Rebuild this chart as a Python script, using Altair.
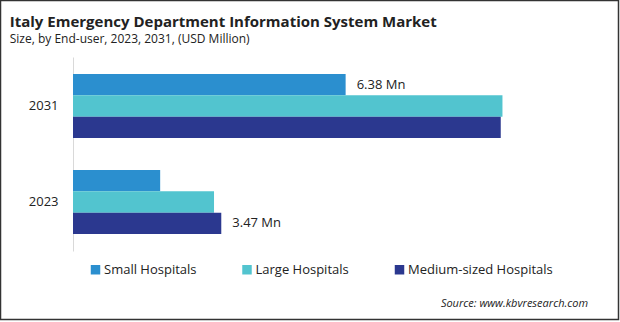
import altair as alt
import pandas as pd

years = ["2031", "2023"]
segments = ["Small Hospitals", "Large Hospitals", "Medium-sized Hospitals"]
values_2031 = [6.38, 10.05, 10.01]
values_2023 = [2.04, 3.30, 3.47]
labels_2031 = ["6.38 Mn", "", ""]
labels_2023 = ["", "", "3.47 Mn"]
colors = ["#2b8fcf", "#52c4cf", "#2b388f"]

rows = []
for seg, v, l in zip(segments, values_2031, labels_2031):
    rows.append({"year": "2031", "segment": seg, "value": v, "label": l})
for seg, v, l in zip(segments, values_2023, labels_2023):
    rows.append({"year": "2023", "segment": seg, "value": v, "label": l})
df = pd.DataFrame(rows)

FONT = "Open Sans"
W, H = 488, 194
PL, PT = 73, 57

y_enc = alt.Y(
    "year:N",
    sort=years,
    scale=alt.Scale(paddingInner=1 / 3, paddingOuter=17 / 96),
    axis=alt.Axis(
        title=None, ticks=False, domainColor="#d9d9d9", domainWidth=1,
        labelPadding=15, labelFontSize=13, labelFont=FONT, labelColor="#222222",
    ),
)
yoff = alt.YOffset("segment:N", sort=segments, scale=alt.Scale(paddingInner=0, paddingOuter=0))
x_enc = alt.X("value:Q", scale=alt.Scale(domain=[0, 11.42], nice=False), axis=None)

base = alt.Chart(df)
bars = base.mark_bar().encode(
    y=y_enc,
    yOffset=yoff,
    x=x_enc,
    color=alt.Color(
        "segment:N",
        sort=segments,
        scale=alt.Scale(domain=segments, range=colors),
        legend=alt.Legend(
            title=None, orient="none", legendX=16, legendY=206,
            direction="horizontal", symbolType="square", symbolSize=90,
            symbolStrokeWidth=0, labelFontSize=13, labelFont=FONT,
            labelColor="#222222", columnPadding=43.5, labelOffset=2,
        ),
    ),
)
texts = base.mark_text(align="left", dx=11, fontSize=13, font=FONT, color="#222222").encode(
    y=alt.Y("year:N", sort=years),
    yOffset=alt.YOffset("segment:N", sort=segments),
    x="value:Q",
    text="label:N",
)

src = alt.Chart(pd.DataFrame({"t": ["Source: www.kbvresearch.com"]})).mark_text(
    align="right", baseline="middle", fontSize=11, fontStyle="italic", font=FONT, color="#222222"
).encode(text="t:N", x=alt.value(588 - PL), y=alt.value(304 - PT))

border = alt.Chart(pd.DataFrame({"a": [0]})).mark_rect(
    fill=None, stroke="#333333", strokeWidth=1.5, clip=False
).encode(
    x=alt.value(-PL + 0.5), x2=alt.value(620 - PL - 1.5),
    y=alt.value(-PT + 0.5), y2=alt.value(322 - PT - 2.5),
)

chart = alt.layer(bars, texts, src, border).properties(
    width=W, height=H,
    background="white",
    title=alt.TitleParams(
        text="Italy Emergency Department  Information System Market",
        subtitle="Size, by End-user, 2023, 2031, (USD Million)",
        anchor="start", dx=10, dy=55, font=FONT, fontSize=15, fontWeight="bold",
        color="#222222", subtitleFont=FONT, subtitleFontSize=12, subtitleColor="#222222",
        subtitlePadding=4, offset=10,
    ),
    autosize=alt.AutoSizeParams(type="none"),
    padding={"left": PL, "top": PT, "right": 620 - PL - W, "bottom": 322 - PT - H},
).configure_view(strokeWidth=0, stroke="transparent")

chart.save("out.html", embed_options={"renderer": "svg", "actions": False})
